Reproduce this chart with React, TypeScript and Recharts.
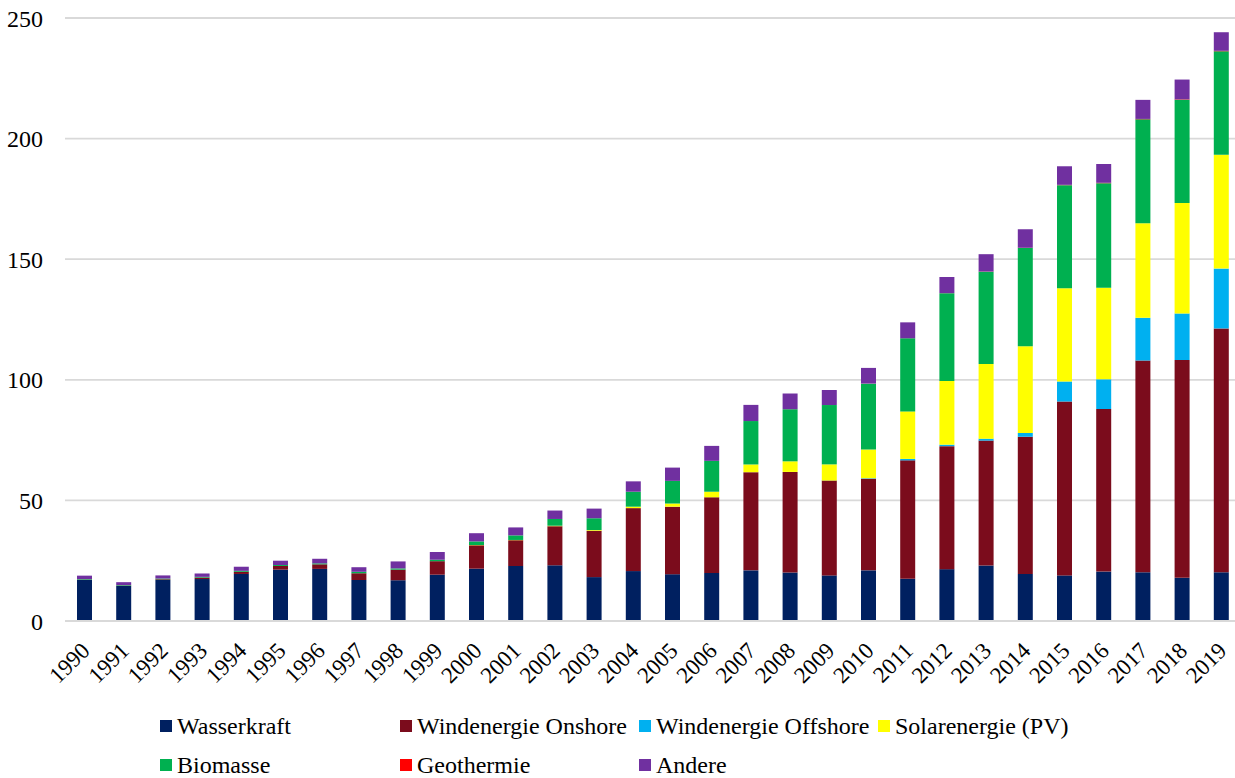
import React from "react";
import { BarChart, Bar, XAxis, YAxis, CartesianGrid, Legend } from "recharts";

// Bruttostromerzeugung aus erneuerbaren Energien (TWh), 1990–2019
const years = [
  "1990", "1991", "1992", "1993", "1994", "1995", "1996", "1997", "1998", "1999",
  "2000", "2001", "2002", "2003", "2004", "2005", "2006", "2007", "2008", "2009",
  "2010", "2011", "2012", "2013", "2014", "2015", "2016", "2017", "2018", "2019",
];

const wasserkraft = [
  17.1, 14.6, 17.0, 17.4, 19.5, 21.3, 21.6, 17.0, 16.9, 19.2,
  21.7, 22.8, 23.1, 18.2, 20.7, 19.4, 19.9, 21.0, 20.1, 18.9,
  21.0, 17.5, 21.5, 23.0, 19.5, 18.9, 20.5, 20.2, 17.9, 20.2,
];
const windOnshore = [
  0.1, 0.1, 0.3, 0.6, 0.9, 1.5, 1.9, 2.8, 4.4, 5.6,
  9.7, 10.7, 16.2, 19.2, 26.1, 28.0, 31.4, 40.7, 41.7, 39.3,
  38.0, 49.1, 51.0, 51.8, 56.9, 72.1, 67.4, 87.8, 90.3, 101.1,
];
const windOffshore = [
  0, 0, 0, 0, 0, 0, 0, 0, 0, 0,
  0, 0, 0, 0, 0, 0, 0, 0, 0, 0.04,
  0.2, 0.6, 0.6, 0.8, 1.5, 8.3, 12.3, 17.7, 19.3, 24.8,
];
const solar = [
  0, 0, 0, 0, 0, 0, 0, 0, 0, 0,
  0.1, 0.1, 0.2, 0.3, 0.6, 1.3, 2.3, 3.2, 4.4, 6.7,
  11.9, 19.7, 26.4, 31.0, 36.0, 38.7, 38.0, 39.2, 45.8, 47.2,
];
const biomasse = [
  0.2, 0.2, 0.3, 0.3, 0.4, 0.4, 0.4, 0.6, 0.5, 0.6,
  1.5, 1.9, 2.8, 4.9, 6.2, 9.4, 12.8, 18.0, 21.6, 24.6,
  27.3, 30.3, 36.4, 38.2, 40.7, 42.7, 43.3, 43.1, 42.8, 42.9,
];
const geothermie = [
  0, 0, 0, 0, 0, 0, 0, 0, 0, 0,
  0, 0, 0, 0, 0, 0, 0, 0, 0.02, 0.02,
  0.03, 0.02, 0.03, 0.08, 0.1, 0.13, 0.18, 0.16, 0.18, 0.2,
];
const andere = [
  1.4, 1.2, 1.3, 1.4, 1.7, 1.8, 1.9, 1.9, 2.9, 3.2,
  3.4, 3.3, 3.5, 4.0, 4.3, 5.5, 6.2, 6.7, 6.5, 6.2,
  6.5, 6.6, 6.7, 7.2, 7.7, 7.7, 7.8, 7.9, 8.2, 7.7,
];

const yTicks = [0, 50, 100, 150, 200, 250];

const series = [
  { key: "wasserkraft", name: "Wasserkraft", color: "#002060", values: wasserkraft },
  { key: "windOnshore", name: "Windenergie Onshore", color: "#7B0C1C", values: windOnshore },
  { key: "windOffshore", name: "Windenergie Offshore", color: "#00B0F0", values: windOffshore },
  { key: "solar", name: "Solarenergie (PV)", color: "#FFFF00", values: solar },
  { key: "biomasse", name: "Biomasse", color: "#00B050", values: biomasse },
  { key: "geothermie", name: "Geothermie", color: "#FF0000", values: geothermie },
  { key: "andere", name: "Andere", color: "#7030A0", values: andere },
];

const data = years.map((year, i) => {
  const row: Record<string, number | string> = { year };
  series.forEach((s) => {
    row[s.key] = s.values[i];
  });
  return row;
});

const FONT = '"Liberation Serif", "Times New Roman", serif';

// legend grid like the Excel original: 4 columns, 2 rows
const legendCols = [160, 400, 639, 878];
const legendRows = [11, 50];

function YearTick(props: any) {
  const { x, y, payload } = props;
  const ex = x + 6.5;
  const ey = y + 23;
  return (
    <text
      x={ex}
      y={ey}
      transform={`rotate(-45, ${ex}, ${ey})`}
      textAnchor="end"
      fontSize={23}
      fontFamily={FONT}
      fill="#000"
    >
      {payload.value}
    </text>
  );
}

function ChartLegend() {
  return (
    <div style={{ position: "relative", width: 1235, height: 73, fontFamily: FONT }}>
      {series.map((s, i) => (
        <div
          key={s.key}
          style={{
            position: "absolute",
            left: legendCols[i % 4],
            top: legendRows[Math.floor(i / 4)],
            height: 20,
            display: "flex",
            alignItems: "center",
            gap: 5,
            whiteSpace: "nowrap",
          }}
        >
          <span style={{ width: 12, height: 12, background: s.color, display: "inline-block" }} />
          <span style={{ fontSize: 24, lineHeight: "20px", color: "#000" }}>{s.name}</span>
        </div>
      ))}
    </div>
  );
}

export default function App() {
  return (
    <div style={{ position: "absolute", left: 0, top: 0, width: 1235, height: 778, overflow: "hidden", background: "#fff" }}>
      <BarChart
        width={1241}
        height={778}
        data={data}
        margin={{ top: 18, right: 0, bottom: 0, left: 0 }}
        barSize={15}
      >
        <CartesianGrid vertical={false} stroke="#d9d9d9" strokeWidth={1.8} />
        <XAxis
          dataKey="year"
          height={84}
          interval={0}
          tickLine={false}
          axisLine={{ stroke: "#d9d9d9", strokeWidth: 1.8 }}
          tick={<YearTick />}
        />
        <YAxis
          width={65}
          domain={[0, 250]}
          ticks={yTicks}
          tickLine={false}
          axisLine={false}
          tickMargin={16}
          tick={{ fontSize: 24, fill: "#000", fontFamily: FONT }}
        />
        <Legend verticalAlign="bottom" content={<ChartLegend />} wrapperStyle={{ left: 0, width: 1235 }} />
        {series.map((s) => (
          <Bar
            key={s.key}
            dataKey={s.key}
            name={s.name}
            stackId="ee"
            fill={s.color}
            isAnimationActive={false}
          />
        ))}
      </BarChart>
    </div>
  );
}
